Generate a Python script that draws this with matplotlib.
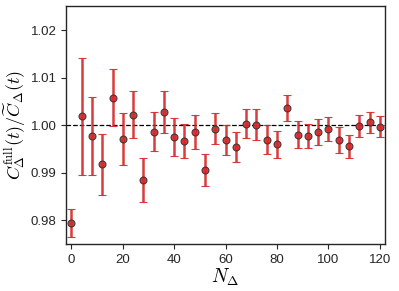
import numpy as np
import matplotlib
matplotlib.use("Agg")
import matplotlib.pyplot as plt

n_delta = [0, 4, 8, 12, 16, 20, 24, 28, 32, 36, 40, 44, 48, 52, 56, 60,
           64, 68, 72, 76, 80, 84, 88, 92, 96, 100, 104, 108, 112, 116, 120]
ratio = [0.97937, 1.0019, 0.99775, 0.99179, 1.0058, 0.99718, 1.00223, 0.98855,
         0.99865, 1.00286, 0.99747, 0.99669, 0.99859, 0.99053, 0.99928, 0.99684,
         0.99543, 1.00034, 1.00013, 0.99697, 0.99600, 1.00364, 0.99802, 0.99781,
         0.99865, 0.99928, 0.99697, 0.99558, 0.99979, 1.00063, 0.99971]
err = [0.0030, 0.0123, 0.0082, 0.0064, 0.0060, 0.0055, 0.0050, 0.0046,
       0.0041, 0.0044, 0.0040, 0.0036, 0.0035, 0.0034, 0.0033, 0.0032,
       0.0032, 0.0030, 0.0033, 0.0030, 0.0028, 0.0027, 0.0028, 0.0025,
       0.0027, 0.0025, 0.0027, 0.0024, 0.0023, 0.0022, 0.0022]
yticks = [0.98, 0.99, 1.00, 1.01, 1.02]
xticks = [0, 20, 40, 60, 80, 100, 120]

plt.rcParams['font.family'] = ['Liberation Sans', 'DejaVu Sans']
plt.rcParams['mathtext.fontset'] = 'cm'

fig = plt.figure(figsize=(3.99, 2.91), dpi=100)
ax = fig.add_axes([0.166, 0.1615, 0.799, 0.8175])

ax.axhline(1.0, color='black', ls='--', lw=0.9, zorder=1)
ax.errorbar(n_delta, ratio, yerr=err, fmt='o', color='#d62728', ecolor='#d62728',
            elinewidth=1.8, capsize=3, capthick=1.8, ms=5,
            mfc='#d62728', mec='#333333', mew=0.8, alpha=0.9, zorder=3)

ax.set_xlim(-2, 122)
ax.set_ylim(0.975, 1.0251)
ax.set_xticks(xticks)
ax.set_yticks(yticks)
ax.set_yticklabels([f"{v:.2f}" for v in yticks])
ax.tick_params(labelsize=9.5, colors='#262626', length=3.5, width=0.8, direction='out')
for s in ax.spines.values():
    s.set_color('#262626')
    s.set_linewidth(1.0)
ax.set_xlabel(r'$N_\Delta$', fontsize=14, labelpad=1)
ax.set_ylabel(r'$C^{\rm full}_\Delta(t)/\widetilde{C}_\Delta(t)$', fontsize=13, labelpad=2)

fig.savefig('out.png', dpi=100)
